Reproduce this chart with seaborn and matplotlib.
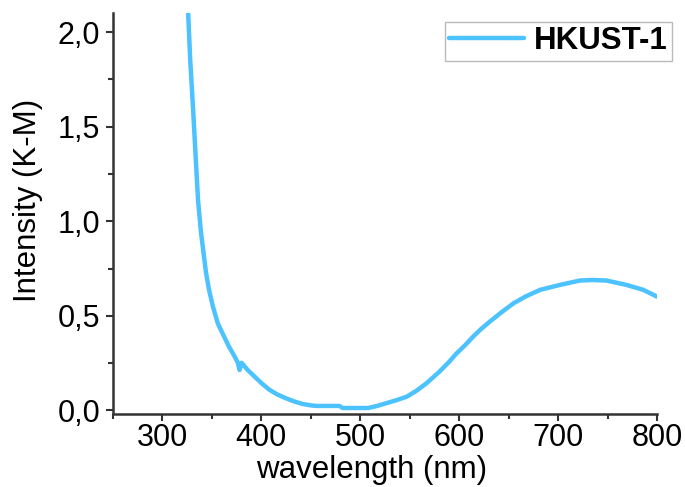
import matplotlib
matplotlib.use("Agg")
import matplotlib.pyplot as plt
import matplotlib.ticker as mticker
import seaborn as sns
import pandas as pd

# wavelength (nm)
wavelength = [324, 326, 328, 331, 334, 336, 339, 344, 347, 351, 356, 361, 367, 373, 376,
              378, 380, 386, 395, 400, 408, 416, 425, 433, 442, 450, 456, 468, 479,
              482, 495, 508, 517, 526, 537, 547, 557, 567, 580, 590, 597, 606, 614,
              622, 631, 643, 655, 668, 682, 702, 722, 735, 749, 769, 786, 800]
# Kubelka-Munk intensity
intensity = [2.25, 2.10, 1.86, 1.59, 1.30, 1.11, 0.94, 0.73, 0.64, 0.55, 0.46, 0.405, 0.34, 0.285, 0.255,
             0.214, 0.252, 0.215, 0.17, 0.145, 0.11, 0.085, 0.064, 0.048, 0.034, 0.027, 0.024, 0.024, 0.024,
             0.013, 0.013, 0.013, 0.024, 0.038, 0.055, 0.073, 0.105, 0.144, 0.205, 0.258, 0.30, 0.345, 0.39,
             0.43, 0.47, 0.52, 0.567, 0.605, 0.638, 0.664, 0.687, 0.69, 0.687, 0.664, 0.638, 0.602]
series_name = "HKUST-1"
x_ticks = [300, 400, 500, 600, 700, 800]
y_ticks = [0.0, 0.5, 1.0, 1.5, 2.0]

df = pd.DataFrame({"wavelength": wavelength, "intensity": intensity, "sample": series_name})

sns.set_style("ticks")
plt.rcParams["font.family"] = ["Liberation Sans", "DejaVu Sans"]
plt.rcParams["text.color"] = "black"
plt.rcParams["axes.labelcolor"] = "black"

fig = plt.figure(figsize=(6.85, 4.87), dpi=100)
ax = fig.add_axes([113 / 685, 1 - 413.5 / 487, (657 - 113) / 685, (413.5 - 13.3) / 487])

sns.lineplot(data=df, x="wavelength", y="intensity", hue="sample", ax=ax,
             palette=["#4CC2FF"], linewidth=3.2, sort=False, estimator=None)

ax.set_xlim(250, 800)
ax.set_ylim(-0.016, 2.10)
ax.set_xticks(x_ticks)
ax.set_yticks(y_ticks)
ax.xaxis.set_minor_locator(mticker.MultipleLocator(50))
ax.yaxis.set_minor_locator(mticker.MultipleLocator(0.25))
ax.yaxis.set_major_formatter(mticker.FuncFormatter(lambda v, p: f"{v:.1f}".replace(".", ",")))

ax.set_xlabel("wavelength (nm)", fontsize=22.5)
ax.set_ylabel("Intensity (K-M)", fontsize=22.5)
ax.tick_params(axis="both", which="major", labelsize=22, length=5, width=1.5,
               direction="out", color="#333333", labelcolor="black")
ax.tick_params(axis="x", which="major", pad=2)
ax.tick_params(axis="y", which="major", pad=4)
ax.tick_params(axis="both", which="minor", length=3.5, width=1.5, direction="out", color="#333333")
# label positions as in the reference (slightly off-centre)
ax.xaxis.set_label_coords((372 - 113) / 544, -(485 - 413.5) / 400.2)
ax.xaxis.label.set_va("bottom")
ax.yaxis.set_label_coords(-(113 - 13) / 544, (413.5 - 200) / 400.2)
ax.yaxis.label.set_va("top")

for s in ["top", "right"]:
    ax.spines[s].set_visible(False)
for s in ["left", "bottom"]:
    ax.spines[s].set_linewidth(1.8)
    ax.spines[s].set_color("#333333")

leg = ax.legend(loc="upper right", bbox_to_anchor=(672 / 685, 1 - 21.7 / 487),
                bbox_transform=fig.transFigure, borderaxespad=0, frameon=True,
                fancybox=False, framealpha=1, edgecolor="#BBBBBB",
                prop={"weight": "bold", "size": 22.5}, handlelength=2.4,
                borderpad=0.15, handletextpad=0.3)
leg.get_frame().set_linewidth(1.0)
for line in leg.get_lines():
    line.set_linewidth(3.2)

fig.savefig("out.png", dpi=100)
